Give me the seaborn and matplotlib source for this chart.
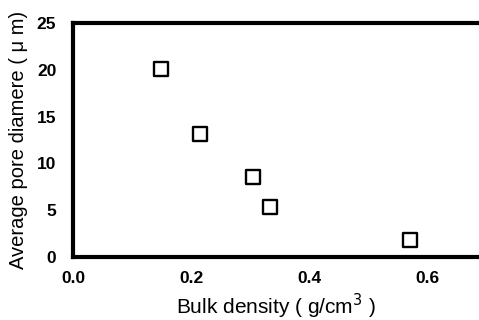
import matplotlib
matplotlib.use("Agg")
import matplotlib.pyplot as plt
import seaborn as sns
import pandas as pd

bulk_density = [0.149, 0.215, 0.305, 0.334, 0.571]
pore_diameter = [20.1, 13.1, 8.55, 5.3, 1.8]

sns.set_style("white", {"text.color": "black", "axes.labelcolor": "black",
                        "xtick.color": "black", "ytick.color": "black"})
plt.rcParams['font.family'] = ['Liberation Sans', 'DejaVu Sans']

df = pd.DataFrame({"x": bulk_density, "y": pore_diameter})

fig = plt.figure(figsize=(4.79, 3.2), dpi=100)
ax = fig.add_axes([73/479, 63/320, 406/479, 234/320])
sns.scatterplot(data=df, x="x", y="y", ax=ax, marker="s", s=115,
                facecolor="white", edgecolor="black", linewidth=1.7, zorder=3)

ax.set_xlim(0, 0.688)
ax.set_ylim(0, 25)
ax.set_xticks([0.0, 0.2, 0.4, 0.6])
ax.set_xticklabels(["0.0", "0.2", "0.4", "0.6"])
ax.set_yticks([0, 5, 10, 15, 20, 25])
ax.set_yticklabels(["0", "5", "10", "15", "20", "25"])
for s in ["left", "top", "bottom"]:
    ax.spines[s].set_linewidth(3)
    ax.spines[s].set_color("black")
ax.spines["right"].set_visible(False)
ax.tick_params(axis="x", direction="in", length=4, width=1, pad=10, labelsize=12.5)
ax.tick_params(axis="y", direction="in", length=0, width=1, pad=12, labelsize=12.5)
for lab in ax.get_xticklabels() + ax.get_yticklabels():
    lab.set_fontweight("bold")

ax.set_xlabel("Bulk density ( g/cm$^3$ )", fontsize=15, labelpad=4)
ax.set_ylabel("Average pore diamere ( μ m)", fontsize=14.5, labelpad=6)

fig.savefig("out.png", dpi=100)
